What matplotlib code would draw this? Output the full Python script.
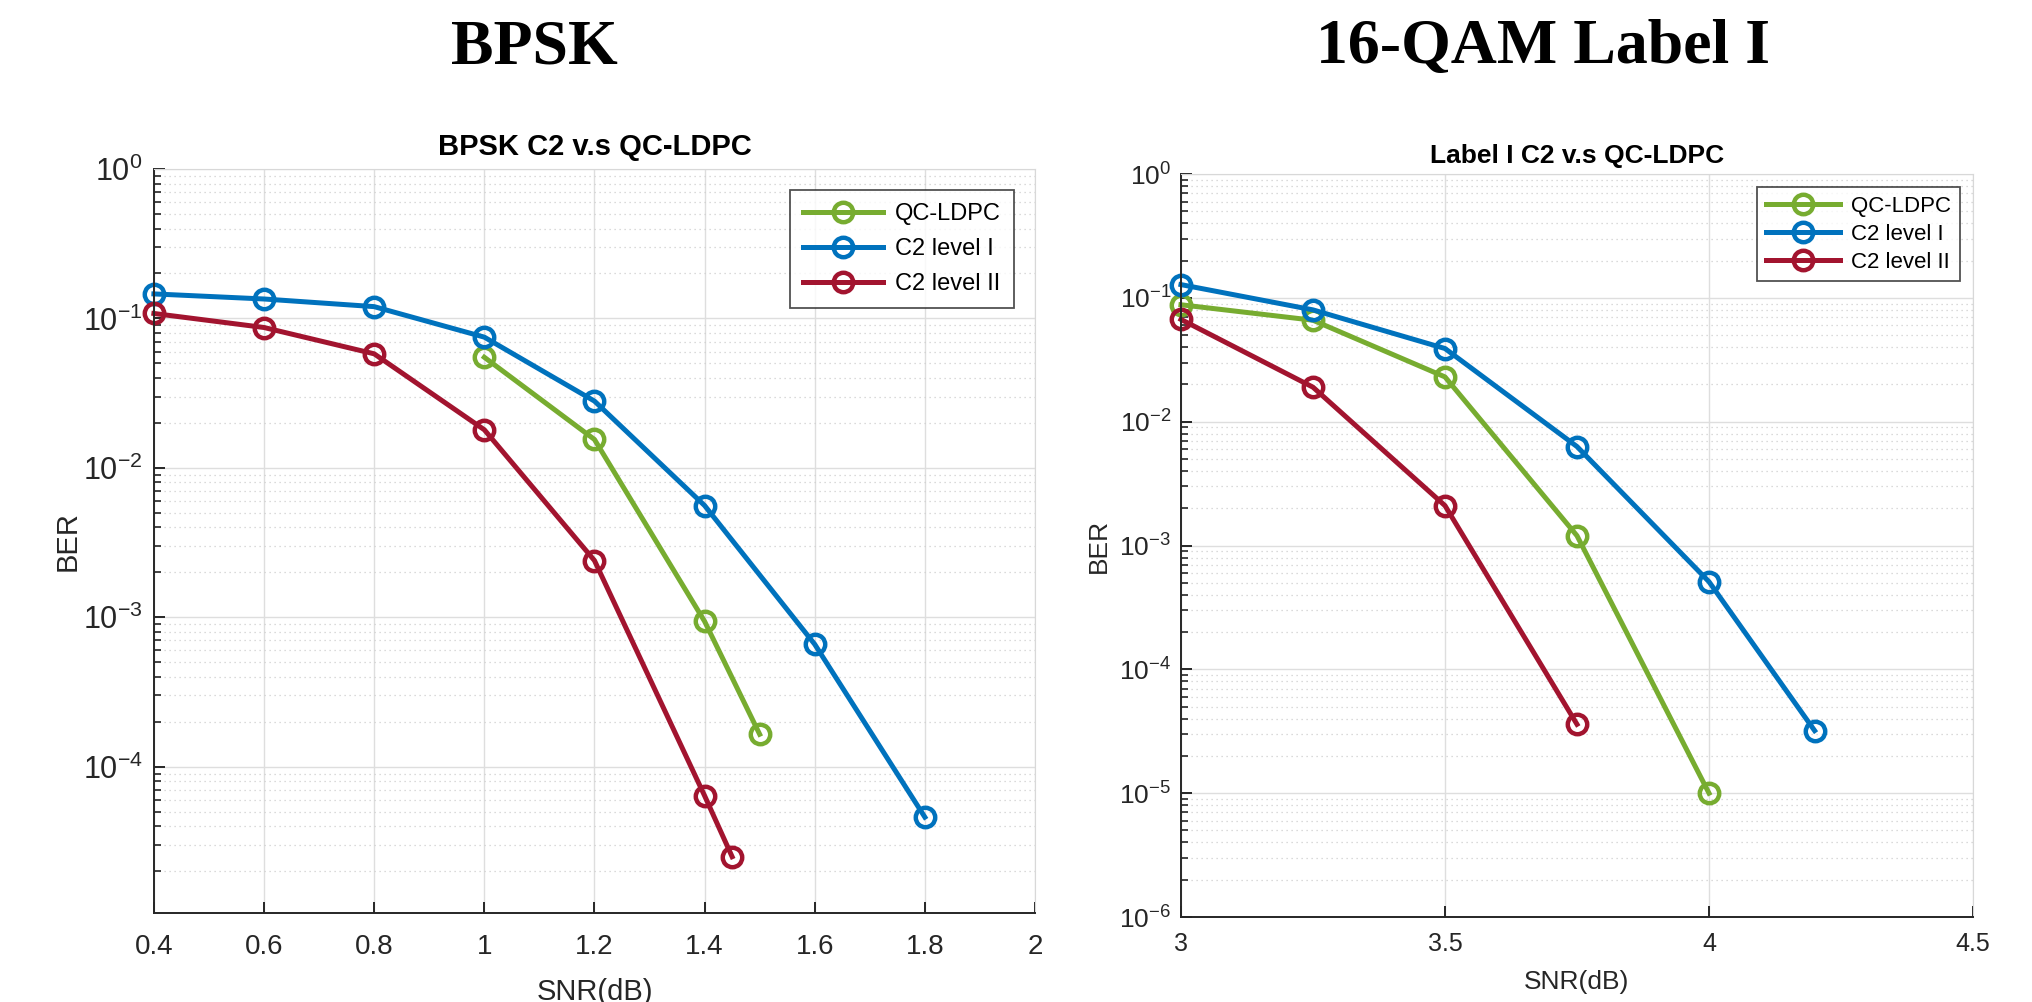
import matplotlib.pyplot as plt
import numpy as np

# BPSK data
snr_bpsk_ldpc = [1.0, 1.2, 1.4, 1.5]
ber_bpsk_ldpc = [0.055, 0.0155, 9.4e-4, 1.65e-4]
snr_bpsk_c2 = [0.4, 0.6, 0.8, 1.0, 1.2, 1.4, 1.6, 1.8]
ber_bpsk_c2_l1 = [0.146, 0.135, 0.12, 0.075, 0.028, 5.6e-3, 6.6e-4, 4.6e-5]
snr_bpsk_c2_l2 = [0.4, 0.6, 0.8, 1.0, 1.2, 1.4, 1.45]
ber_bpsk_c2_l2 = [0.108, 0.087, 0.058, 0.018, 2.4e-3, 6.4e-5, 2.5e-5]

# 16-QAM label I data
snr_qam_ldpc = [3.0, 3.25, 3.5, 3.75, 4.0]
ber_qam_ldpc = [0.088, 0.066, 0.023, 1.2e-3, 1.0e-5]
snr_qam_l1 = [3.0, 3.25, 3.5, 3.75, 4.0, 4.2]
ber_qam_l1 = [0.128, 0.08, 0.039, 6.3e-3, 5.1e-4, 3.2e-5]
snr_qam_l2 = [3.0, 3.25, 3.5, 3.75]
ber_qam_l2 = [0.067, 0.019, 2.1e-3, 3.6e-5]

labels = ['QC-LDPC', 'C2 level I', 'C2 level II']
colors = ['#77AC30', '#0072BD', '#A2142F']

plt.rcParams['font.family'] = ['Liberation Sans', 'DejaVu Sans']
plt.rcParams['mathtext.fontset'] = 'custom'
plt.rcParams['mathtext.rm'] = 'Liberation Sans'
plt.rcParams['mathtext.it'] = 'Liberation Sans'
plt.rcParams['mathtext.bf'] = 'Liberation Sans:bold'

fig = plt.figure(figsize=(20.33, 10.02), dpi=100)


def pow_label(e):
    return r'$\mathrm{10^{%d}}$' % e


def style_axes(ax, xfs, yfs, xpad, ypad):
    ax.set_yscale('log')
    ax.grid(True, which='major', color='#dedede', linewidth=1.0)
    ax.grid(True, which='minor', color='#cfcfcf', linestyle=(0, (1, 3)), linewidth=0.9)
    ax.set_axisbelow(True)
    for s in ['top', 'right']:
        ax.spines[s].set_color('#d8d8d8')
    for s in ['left', 'bottom']:
        ax.spines[s].set_color('#262626')
        ax.spines[s].set_linewidth(1.4)
    ax.tick_params(which='both', direction='in', top=False, right=False,
                   colors='#262626')
    ax.tick_params(which='major', length=8, width=1.4)
    ax.tick_params(which='minor', length=5, width=1.2)
    ax.tick_params(axis='x', which='major', pad=xpad, labelsize=xfs)
    ax.tick_params(axis='y', which='major', pad=ypad, labelsize=yfs)


def draw(ax, series):
    for (x, y), lab, c in zip(series, labels, colors):
        ax.plot(x, y, '-o', color=c, label=lab, linewidth=3.6,
                markersize=14, markerfacecolor='none', markeredgewidth=3.2,
                clip_on=False)


# left panel
ax1 = fig.add_axes([0.0757, 0.0888, 0.4334, 0.7425])
style_axes(ax1, 20, 22, 15, 8)
draw(ax1, [(snr_bpsk_ldpc, ber_bpsk_ldpc), (snr_bpsk_c2, ber_bpsk_c2_l1),
           (snr_bpsk_c2_l2, ber_bpsk_c2_l2)])
ax1.set_xlim(0.4, 2.0)
ax1.set_ylim(1.05e-5, 1)
ax1.set_xticks([0.4, 0.6, 0.8, 1.0, 1.2, 1.4, 1.6, 1.8, 2.0])
ax1.set_xticklabels(['0.4', '0.6', '0.8', '1', '1.2', '1.4', '1.6', '1.8', '2'])
ax1.set_yticks([1e-4, 1e-3, 1e-2, 1e-1, 1])
ax1.set_yticklabels([pow_label(e) for e in range(-4, 1)])
ax1.set_xlabel('SNR(dB)', fontsize=21, color='#262626')
ax1.set_ylabel('BER', fontsize=21, color='#262626')
ax1.xaxis.set_label_coords(0.5, -0.087)
ax1.yaxis.set_label_coords(-0.082, 0.5)
ax1.set_title('BPSK C2 v.s QC-LDPC', fontsize=21, fontweight='bold', pad=10)
leg1 = ax1.legend(loc='upper right', fontsize=17, frameon=True, fancybox=False,
                  edgecolor='#262626', handlelength=3.4, borderaxespad=0.9,
                  labelspacing=0.55, borderpad=0.55, handletextpad=0.5)
leg1.get_frame().set_linewidth(1.3)

# right panel
ax2 = fig.add_axes([0.5809, 0.0848, 0.3896, 0.7415])
style_axes(ax2, 18, 19, 11, 7)
draw(ax2, [(snr_qam_ldpc, ber_qam_ldpc), (snr_qam_l1, ber_qam_l1),
           (snr_qam_l2, ber_qam_l2)])
ax2.set_xlim(3.0, 4.5)
ax2.set_ylim(1e-6, 1)
ax2.set_xticks([3.0, 3.5, 4.0, 4.5])
ax2.set_xticklabels(['3', '3.5', '4', '4.5'])
ax2.set_yticks([1e-6, 1e-5, 1e-4, 1e-3, 1e-2, 1e-1, 1])
ax2.set_yticklabels([pow_label(e) for e in range(-6, 1)])
ax2.set_xlabel('SNR(dB)', fontsize=19, color='#262626')
ax2.set_ylabel('BER', fontsize=19, color='#262626')
ax2.xaxis.set_label_coords(0.5, -0.071)
ax2.yaxis.set_label_coords(-0.088, 0.5)
ax2.set_title('Label I C2 v.s QC-LDPC', fontsize=19, fontweight='bold', pad=8)
leg2 = ax2.legend(loc='upper right', fontsize=16, frameon=True, fancybox=False,
                  edgecolor='#262626', handlelength=3.3, borderaxespad=0.6,
                  labelspacing=0.3, borderpad=0.4, handletextpad=0.5)
leg2.get_frame().set_linewidth(1.3)

fig.text(0.263, 0.952, 'BPSK', fontsize=46, fontweight='bold',
         family='Liberation Serif', ha='center', va='center')
fig.text(0.759, 0.952, '16-QAM Label I', fontsize=46, fontweight='bold',
         family='Liberation Serif', ha='center', va='center')

fig.savefig('out.png', dpi=100, facecolor='white')
